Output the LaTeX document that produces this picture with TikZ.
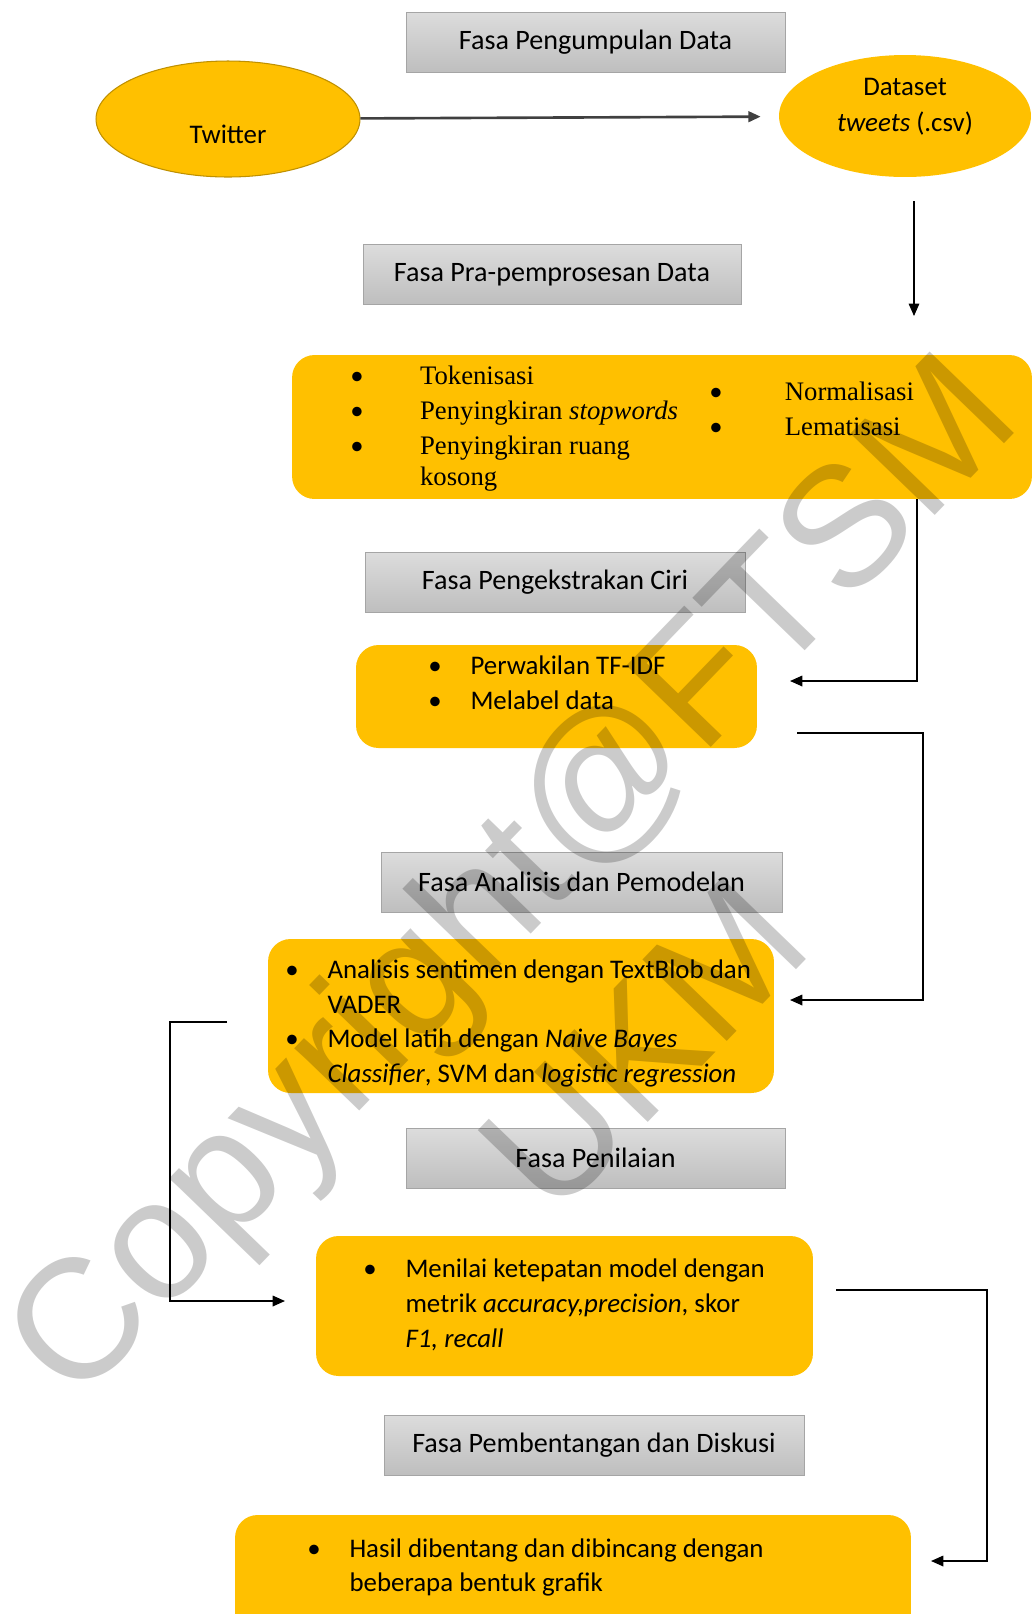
\documentclass[tikz,border=0pt]{standalone}
\usepackage{fontspec}
\setmainfont{Carlito}
\newfontfamily\timesfont{Liberation Serif}
\newfontfamily\markfont{Liberation Sans}
\usetikzlibrary{arrows.meta,shapes.geometric}
\definecolor{amber}{HTML}{FFC000}
\definecolor{amberline}{HTML}{BF9000}
\definecolor{phasetop}{HTML}{DCDCDC}
\definecolor{phasebot}{HTML}{BEBEBE}
\definecolor{phaseline}{HTML}{A5A5A5}
\definecolor{markgray}{HTML}{CBCBCB}
\newcommand{\bitem}[2][24pt]{\makebox[#1][l]{\rmfamily\textbullet}#2}
\newcommand{\bcont}[1][24pt]{\hspace*{#1}}
\tikzset{
  phase/.style={draw=phaseline, top color=phasetop, bottom color=phasebot,
    minimum height=1.2cm, inner sep=0pt, font=\fontsize{16}{19}\selectfont},
  stage/.style={fill=amber, rounded corners=0.45cm, inner sep=0pt},
  source/.style={ellipse, fill=amber, inner sep=0pt},
  itemlist/.style={anchor=west, align=left, inner sep=0pt,
    font=\fontsize{15.3}{19.8}\selectfont},
  serif/.style={itemlist, font=\timesfont\fontsize{15.2}{19.8}\selectfont},
  flow/.style={-{Triangle[length=7pt,width=6pt]}, line width=0.9pt},
  watermark/.style={rotate=46, text=markgray, font=\markfont\fontsize{97}{97}\selectfont},
}
\begin{document}
\begin{tikzpicture}[x=0.02cm,y=-0.02cm]
\useasboundingbox (0,0) rectangle (1034,1614);
% phase titles
\node[phase, minimum width=7.58cm] (p1) at (595.5,42) {Fasa Pengumpulan Data};
\node[phase, minimum width=7.56cm] (p2) at (552,274.5) {Fasa Pra-pemprosesan Data};
\node[phase, minimum width=7.6cm] (p3) at (555,582) {Fasa Pengekstrakan Ciri};
\node[phase, minimum width=8.02cm] (p4) at (581.5,882) {Fasa Analisis dan Pemodelan};
\node[phase, minimum width=7.58cm] (p5) at (595.5,1158) {Fasa Penilaian};
\node[phase, minimum width=8.4cm] (p6) at (594,1445) {Fasa Pembentangan dan Diskusi};
% sources
\node[source, draw=amberline, line width=0.6pt, minimum width=5.28cm, minimum height=2.32cm] (twitter) at (228,119) {};
\node (twittertext) at (228,134) {\fontsize{15.3}{19}\selectfont Twitter};
\node[source, minimum width=5.04cm, minimum height=2.44cm] (dataset) at (905,116) {};
\node[align=center, font=\fontsize{15.3}{20.4}\selectfont] (datasettext) at (905,107) {Dataset\\\textit{tweets} (.csv)};
% stages
\node[stage, minimum width=14.8cm, minimum height=2.88cm] (pre) at (662,427) {};
\node[serif] (prelist) at (350,429) {\bitem[39.7pt]{Tokenisasi}\\ \bitem[39.7pt]{Penyingkiran \textit{stopwords}}\\ \bitem[39.7pt]{Penyingkiran ruang}\\[-2pt] \bcont[39.7pt]kosong};
\node[serif] (prelist2) at (709,408.5) {\bitem[43pt]{Normalisasi}\\ \bitem[43pt]{Lematisasi}};
\node[stage, minimum width=8.02cm, minimum height=2.06cm] (feat) at (556.5,696.5) {};
\node[itemlist] (featlist) at (428,683) {\bitem{Perwakilan TF-IDF}\\ \bitem{Melabel data}};
\node[stage, minimum width=10.12cm, minimum height=3.08cm] (model) at (521,1016) {};
\node[itemlist] (modellist) at (285,1023.5) {\bitem{Analisis sentimen dengan TextBlob dan}\\ \bcont VADER\\ \bitem{Model latih dengan \textit{Naive Bayes}}\\ \bcont\textit{Classifier}, SVM dan \textit{logistic regression}};
\node[stage, minimum width=9.94cm, minimum height=2.8cm] (eval) at (564.5,1306) {};
\node[itemlist] (evallist) at (363,1305) {\bitem{Menilai ketepatan model dengan}\\ \bcont metrik \textit{accuracy,precision}, skor\\ \bcont\textit{F1, recall}};
\node[stage, minimum width=13.52cm, minimum height=3cm] (disc) at (573,1590) {};
\node[itemlist] (disclist) at (307,1567.5) {\bitem{Hasil dibentang dan dibincang dengan}\\ \bcont beberapa bentuk grafik};
% connectors
\coordinate (prein) at (914,316);
\coordinate (featin) at (790,681);
\coordinate (featout) at (797,733);
\coordinate (modelin) at (790,1000);
\coordinate (modelout) at (227,1022);
\coordinate (evalin) at (285,1301);
\coordinate (evalout) at (836,1290);
\coordinate (discin) at (931,1561);
\draw[flow, line width=1.5pt, draw=black!75, shorten >=0.36cm] (twitter) -- (dataset);
\draw[flow, line width=0.6pt] ([shift={(9,24)}]dataset.south) -- (prein);
\draw[flow] (917,0 |- pre.south) |- (featin);
\draw[flow] (featout) -- ++(126,0) |- (modelin);
\draw[flow] (modelout) -- ++(-57,0) |- (evalin);
\draw[flow] (evalout) -- ++(151,0) |- (discin);
% watermark
\begin{scope}[blend mode=multiply]
\node[watermark] (mark1) at (518,884) {Copyright@FTSM};
\node[watermark] (mark2) at (643,1045) {UKM};
\end{scope}
\end{tikzpicture}
\end{document}
